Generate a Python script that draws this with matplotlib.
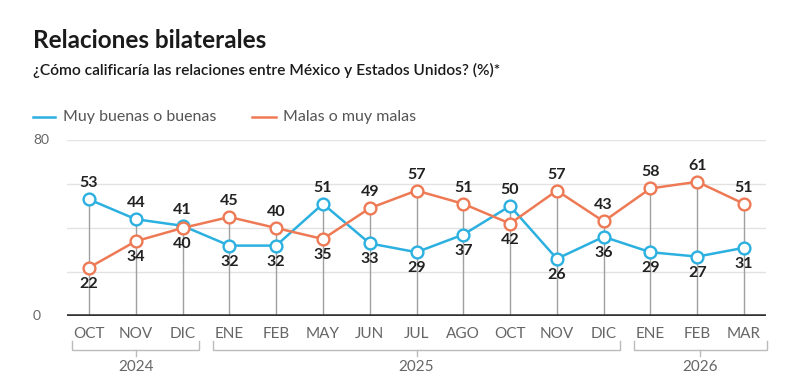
import matplotlib
matplotlib.use("Agg")
import matplotlib.pyplot as plt
import numpy as np

plt.rcParams['font.family'] = ['Lato', 'DejaVu Sans']

# datos
meses = ["OCT", "NOV", "DIC", "ENE", "FEB", "MAY", "JUN", "JUL", "AGO",
         "OCT", "NOV", "DIC", "ENE", "FEB", "MAR"]
buenas = [53, 44, 41, 32, 32, 51, 33, 29, 37, 50, 26, 36, 29, 27, 31]
malas = [22, 34, 40, 45, 40, 35, 49, 57, 51, 42, 57, 43, 58, 61, 51]
anios = ["2024", "2025", "2026"]
anio_ini = [0, 3, 12]
anio_fin = [2, 11, 14]

azul = '#2BB0E0'
naranja = '#EE7A55'

fig = plt.figure(figsize=(8, 3.89), dpi=100)
W, H = 800, 389
ax = fig.add_axes([67/W, (H-316)/H, (766-67)/W, (316-140)/H])

x = np.arange(len(meses))
ax.set_xlim(-0.47, len(meses) - 0.53)
ax.set_ylim(0, 80)

# rejilla
for g in [20, 40, 60, 80]:
    ax.axhline(g, color='#e2e2e2', lw=1, zorder=0)
ax.axhline(0, color='#333333', lw=2.6, zorder=4)

tope = np.maximum(buenas, malas)
ax.vlines(x, 0, tope, color='#a0a0a0', lw=1, zorder=1)

ax.plot(x, buenas, color=azul, lw=1.8, marker='o', ms=8.5, mfc='white',
        mec=azul, mew=1.7, zorder=3)
ax.plot(x, malas, color=naranja, lw=1.8, marker='o', ms=8.5, mfc='white',
        mec=naranja, mew=1.7, zorder=3)

for i in x:
    b, m = buenas[i], malas[i]
    arriba_b = b >= m
    off = 11.5
    ax.annotate(str(b), (i, b), xytext=(0, off if arriba_b else -off),
                textcoords='offset points', ha='center', va='center',
                fontsize=11.5, fontweight='bold', color='#222222', zorder=5)
    ax.annotate(str(m), (i, m), xytext=(0, -off if arriba_b else off),
                textcoords='offset points', ha='center', va='center',
                fontsize=11.5, fontweight='bold', color='#222222', zorder=5)

ax.set_xticks([])
ax.set_yticks([])
for s in ax.spines.values():
    s.set_visible(False)

tr = ax.get_xaxis_transform()
for i, mes in enumerate(meses):
    ax.text(i, -0.103, mes, transform=tr, ha='center', va='center',
            fontsize=11, color='#666666')

# corchetes de años
for nombre, a, b in zip(anios, anio_ini, anio_fin):
    x0, x1 = a - 0.36, b + 0.36
    if b == len(meses) - 1:
        x1 = b + 0.49
    y_top, y_bot = -0.14, -0.195
    ax.plot([x0, x0, x1, x1], [y_top, y_bot, y_bot, y_top], transform=tr,
            color='#bbbbbb', lw=1, clip_on=False)
    xm = (x0 + x1) / 2
    ax.plot([xm, xm], [y_bot, y_bot - 0.03], transform=tr,
            color='#bbbbbb', lw=1, clip_on=False)
    ax.text(xm, -0.29, nombre, transform=tr, ha='center', va='center',
            fontsize=11, color='#666666')

# eje y
fig.text(33/W, 1 - 140/H, "80", ha='left', va='center', fontsize=10, color='#666666')
fig.text(33/W, 1 - 316/H, "0", ha='left', va='center', fontsize=10, color='#666666')

# títulos
fig.text(33/W, 1 - 40/H, "Relaciones bilaterales", ha='left', va='center',
         fontsize=17.5, fontweight='bold', color='#1a1a1a')
fig.text(33/W, 1 - 70/H, "¿Cómo calificaría las relaciones entre México y Estados Unidos? (%)*",
         ha='left', va='center', fontsize=11.2, fontweight='semibold', color='#1a1a1a')

# leyenda
ly = 1 - 117/H
fig.add_artist(plt.Line2D([33/W, 55/W], [ly, ly], color=azul, lw=1.8))
fig.text(63/W, ly, "Muy buenas o buenas", ha='left', va='center', fontsize=11.5,
         color='#555555')
fig.add_artist(plt.Line2D([252/W, 276/W], [ly, ly], color=naranja, lw=1.8))
fig.text(283/W, ly, "Malas o muy malas", ha='left', va='center', fontsize=11.5,
         color='#555555')

fig.savefig("out.png", dpi=100, facecolor='white')
